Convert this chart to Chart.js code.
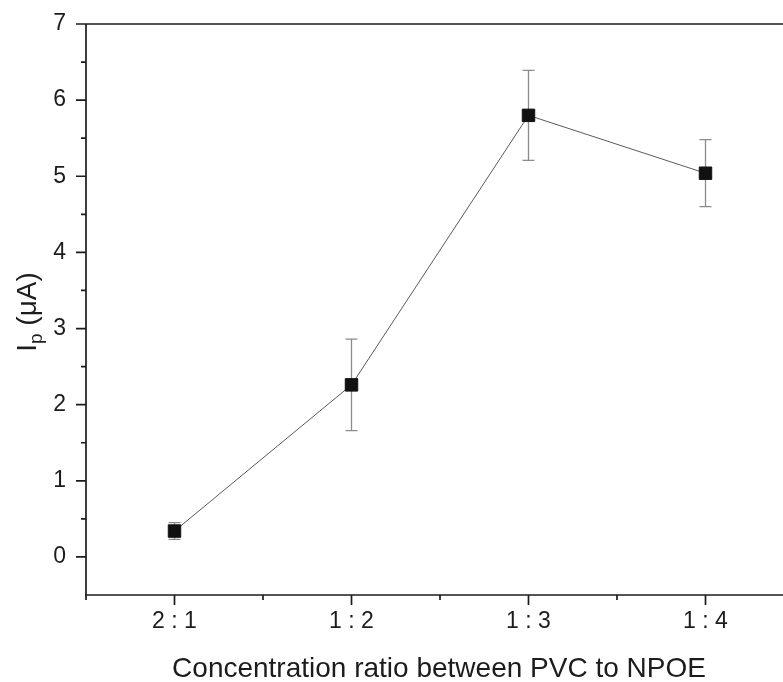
<!DOCTYPE html>
<html>
<head>
<meta charset="utf-8">
<script src="https://cdn.jsdelivr.net/npm/chart.js@4/dist/chart.umd.min.js"></script>
<style>
html,body{margin:0;padding:0;background:#fff;overflow:hidden;}
canvas{display:block;}
</style>
</head>
<body>
<canvas id="c" width="783" height="682"></canvas>
<script>
// ---- data ----
const categories = ['2 : 1', '1 : 2', '1 : 3', '1 : 4'];
const currentValues = [0.34, 2.26, 5.80, 5.04];
const currentErrors = [0.11, 0.60, 0.59, 0.44];
const yTickValues = [0, 1, 2, 3, 4, 5, 6, 7];
const yMinorTicks = [0.5, 1.5, 2.5, 3.5, 4.5, 5.5, 6.5];
const xMinorTicks = [0.5, 1.5, 2.5, 3.5];
const xTitle = 'Concentration ratio between PVC to NPOE';
const yTitleMain = 'I';
const yTitleSub = 'p';
const yTitleRest = ' (\u03bcA)';

const FONT = '"Liberation Sans", Arial, Helvetica, sans-serif';
const INK = '#1c1c1c';
const X_UNIT_PX = 177; // category spacing of the source figure (plot continues past the right edge)

const points = categories.map((c, i) => ({x: i + 1, y: currentValues[i]}));

const framePlugin = {
  id: 'frame',
  beforeDatasetsDraw(chart) {
    const ctx = chart.ctx;
    const xs = chart.scales.x, ys = chart.scales.y;
    ctx.save();
    ctx.strokeStyle = '#8c8c8c';
    ctx.lineWidth = 1.3;
    points.forEach((p, i) => {
      const px = xs.getPixelForValue(p.x);
      const top = ys.getPixelForValue(p.y + currentErrors[i]);
      const bot = ys.getPixelForValue(p.y - currentErrors[i]);
      ctx.beginPath();
      ctx.moveTo(px, top); ctx.lineTo(px, bot);
      ctx.moveTo(px - 6, top); ctx.lineTo(px + 6, top);
      ctx.moveTo(px - 6, bot); ctx.lineTo(px + 6, bot);
      ctx.stroke();
    });
    ctx.restore();
  },
  afterDraw(chart) {
    const ctx = chart.ctx;
    const a = chart.chartArea;
    const xs = chart.scales.x, ys = chart.scales.y;
    ctx.save();
    ctx.strokeStyle = INK;
    ctx.lineWidth = 1.7;
    ctx.beginPath();
    ctx.moveTo(a.left, a.top); ctx.lineTo(chart.width, a.top);
    ctx.moveTo(a.left, a.top); ctx.lineTo(a.left, a.bottom);
    ctx.moveTo(a.left - 1, a.bottom); ctx.lineTo(chart.width, a.bottom);
    yTickValues.forEach(v => { const y = ys.getPixelForValue(v); ctx.moveTo(a.left - 10, y); ctx.lineTo(a.left, y); });
    yMinorTicks.forEach(v => { const y = ys.getPixelForValue(v); ctx.moveTo(a.left - 5, y); ctx.lineTo(a.left, y); });
    categories.forEach((c, i) => { const x = xs.getPixelForValue(i + 1); ctx.moveTo(x, a.bottom); ctx.lineTo(x, a.bottom + 10); });
    xMinorTicks.forEach(v => { const x = xs.getPixelForValue(v); ctx.moveTo(x, a.bottom); ctx.lineTo(x, a.bottom + 5); });
    ctx.stroke();

    ctx.fillStyle = INK;
    ctx.textBaseline = 'alphabetic';
    ctx.font = '28px ' + FONT;
    ctx.textAlign = 'center';
    ctx.fillText(xTitle, 439, 677);

    ctx.textAlign = 'left';
    ctx.font = '28px ' + FONT;
    const wI = ctx.measureText(yTitleMain).width;
    const wR = ctx.measureText(yTitleRest).width;
    ctx.font = '19px ' + FONT;
    const wP = ctx.measureText(yTitleSub).width;
    const total = wI + wP + wR;
    const cy = 312;
    ctx.translate(36, cy + total / 2);
    ctx.rotate(-Math.PI / 2);
    ctx.font = '28px ' + FONT;
    ctx.fillText(yTitleMain, 0, 0);
    ctx.font = '19px ' + FONT;
    ctx.fillText(yTitleSub, wI, 6);
    ctx.font = '28px ' + FONT;
    ctx.fillText(yTitleRest, wI + wP, 0);
    ctx.restore();
  }
};

const chart = new Chart(document.getElementById('c'), {
  type: 'line',
  data: {
    datasets: [{
      data: points,
      borderColor: '#5a5a5a',
      borderWidth: 1,
      pointStyle: 'rect',
      pointRadius: 8.8,
      pointBorderWidth: 1,
      pointBackgroundColor: '#111',
      pointBorderColor: '#111',
      tension: 0,
      fill: false,
      clip: false
    }]
  },
  options: {
    responsive: false,
    devicePixelRatio: 1,
    animation: false,
    events: [],
    layout: {padding: {top: 24, right: 0, left: 0, bottom: 0}},
    plugins: {legend: {display: false}, tooltip: {enabled: false}},
    scales: {
      x: {
        type: 'linear',
        min: 0.5,
        max: 4.44,
        bounds: 'data',
        afterFit: s => { s.height = 87; s.paddingLeft = 0; s.paddingRight = 0; s.paddingTop = 0; s.paddingBottom = 0; },
        afterBuildTicks: s => { s.ticks = categories.map((c, i) => ({value: i + 1})); },
        grid: {display: false, drawTicks: false},
        border: {display: false},
        ticks: {
          autoSkip: false, maxRotation: 0, padding: 13,
          color: INK,
          font: {family: FONT, size: 23},
          callback: v => categories[Math.round(v) - 1]
        }
      },
      y: {
        type: 'linear',
        min: -0.5,
        max: 7,
        afterFit: s => { s.width = 86; s.paddingLeft = 0; s.paddingRight = 0; s.paddingTop = 0; s.paddingBottom = 0; },
        afterBuildTicks: s => { s.ticks = yTickValues.map(v => ({value: v})); },
        grid: {display: false, drawTicks: false},
        border: {display: false},
        ticks: {
          padding: 20,
          color: INK,
          font: {family: FONT, size: 23},
          callback: v => String(v)
        }
      }
    }
  },
  plugins: [framePlugin]
});
// keep the source figure's category spacing whatever width the layout gives the plot
const area = chart.chartArea;
chart.options.scales.x.max = 0.5 + (area.right - area.left) / X_UNIT_PX;
chart.update();
</script>
</body>
</html>
